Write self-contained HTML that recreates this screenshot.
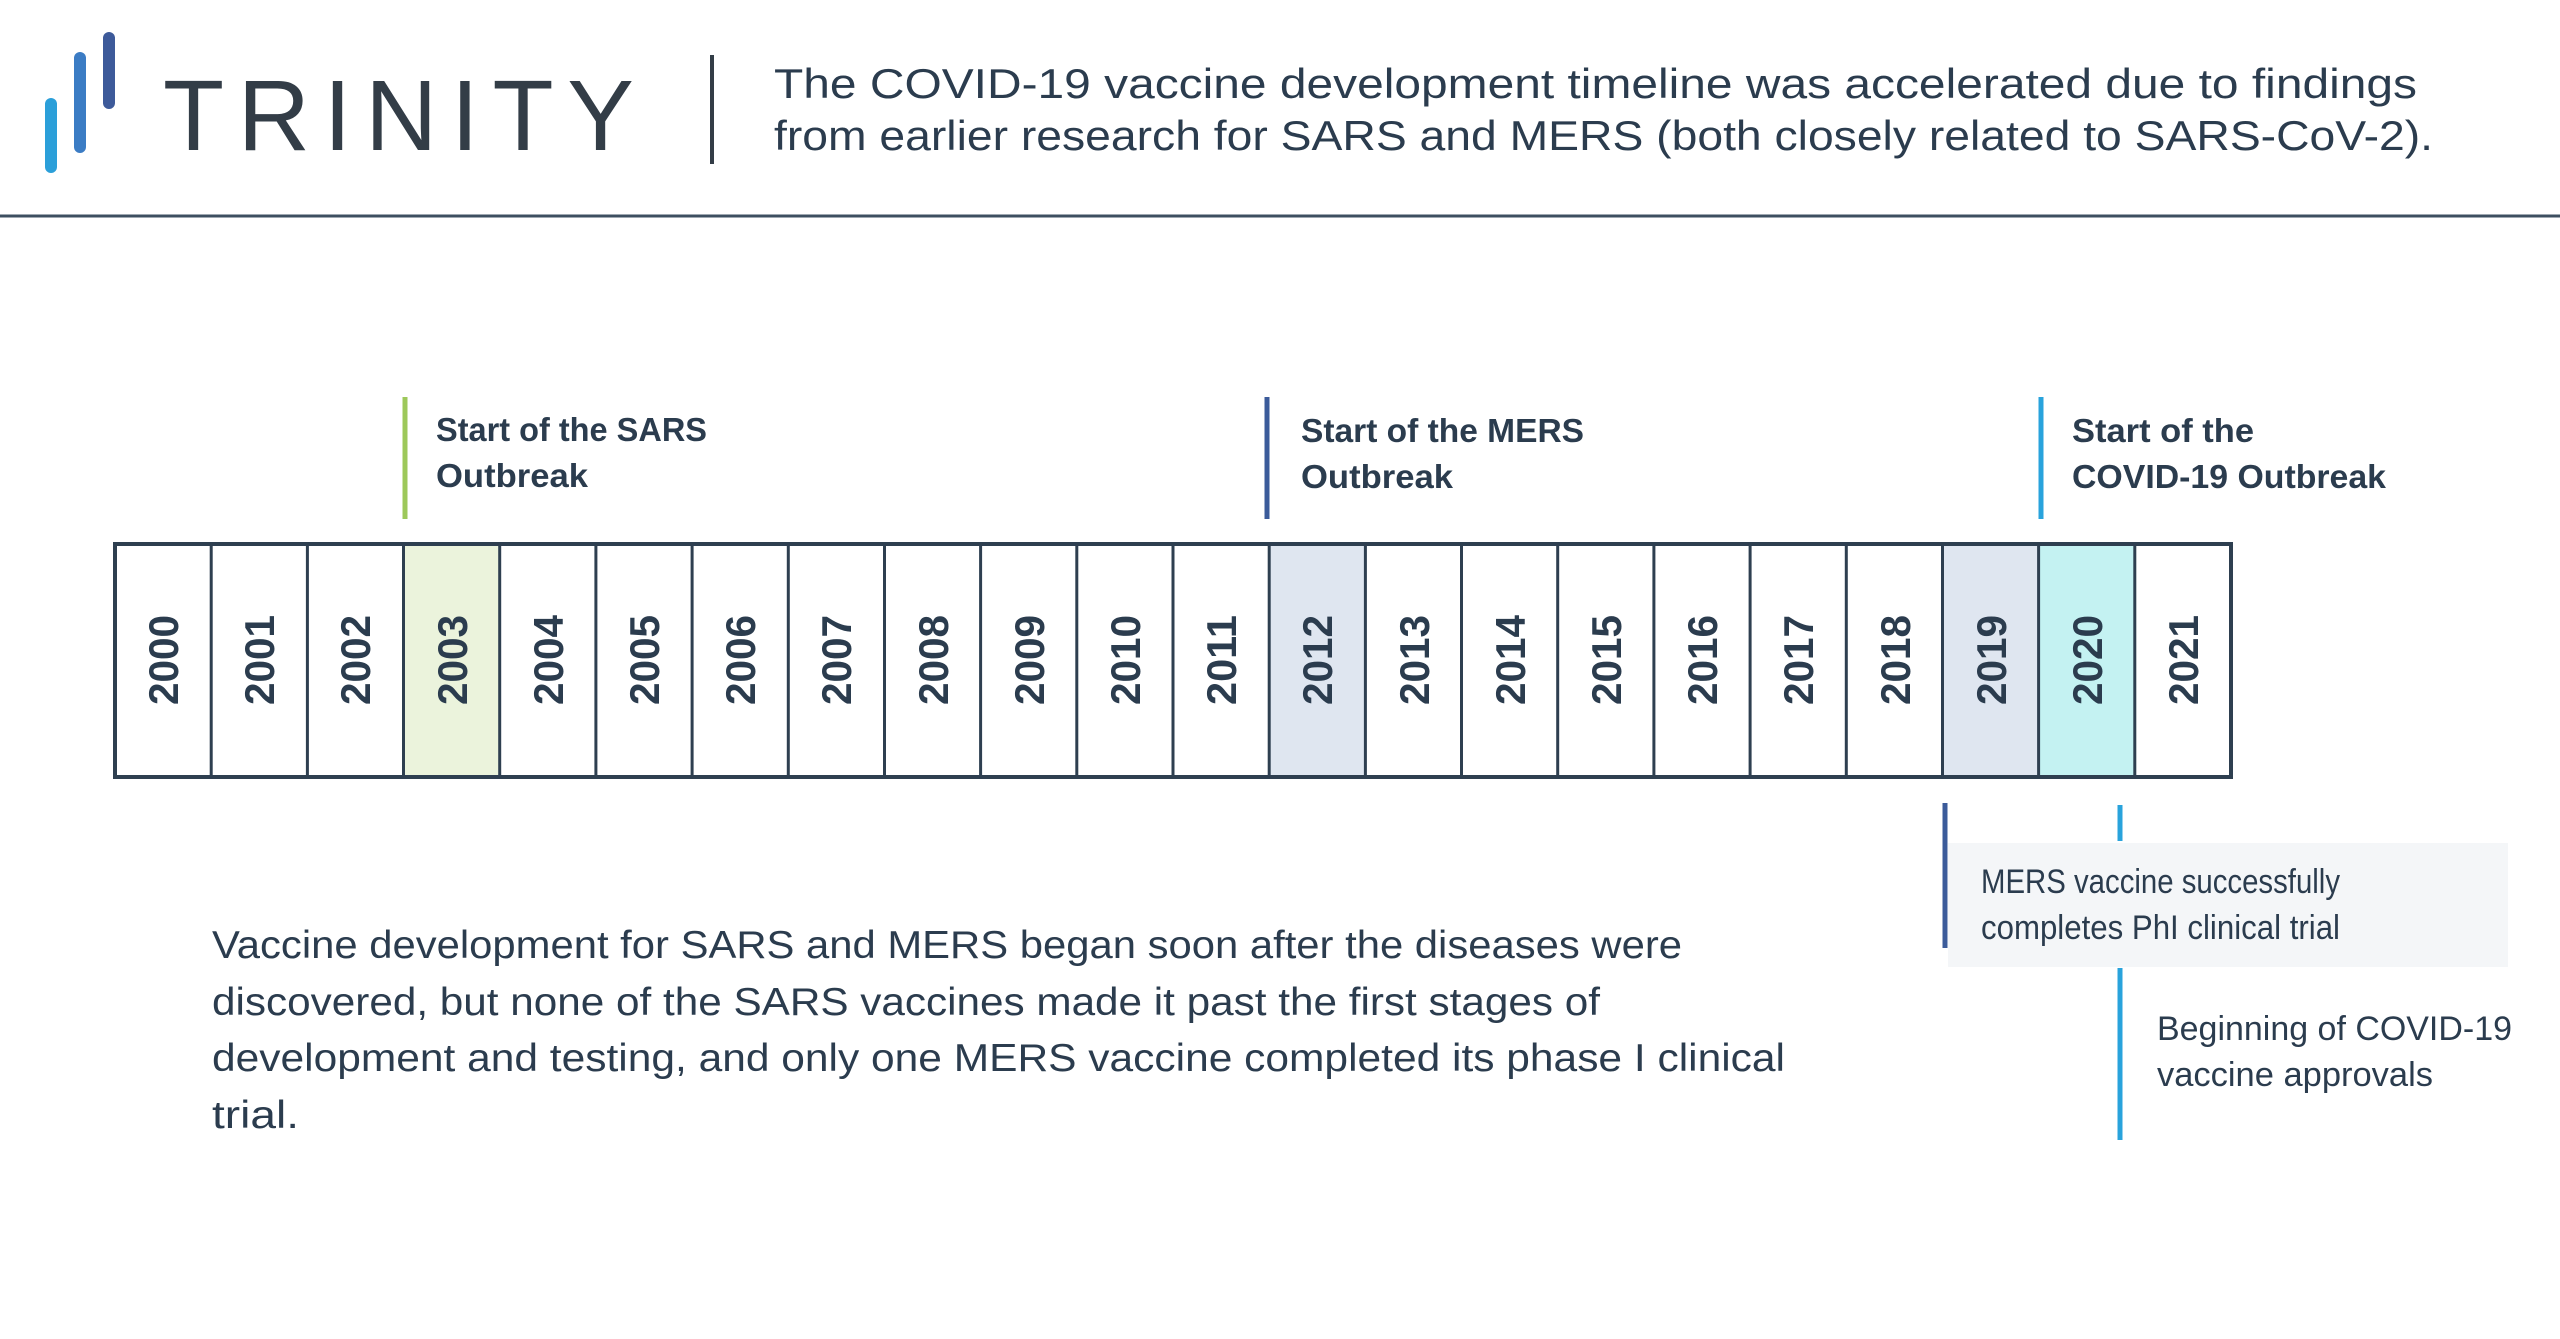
<!DOCTYPE html>
<html><head><meta charset="utf-8"><style>
html,body{margin:0;padding:0;background:#fff;}
svg{display:block;}
text{font-family:"Liberation Sans",sans-serif;fill:#2b3c4e;}
</style></head><body>
<svg width="2560" height="1339" viewBox="0 0 2560 1339" xmlns="http://www.w3.org/2000/svg">
<rect width="2560" height="1339" fill="#fff"/>
<!-- logo -->
<line x1="51" y1="104" x2="51" y2="167" stroke="#2b9fd9" stroke-width="12" stroke-linecap="round"/>
<line x1="80" y1="58" x2="80" y2="147" stroke="#3b7cc4" stroke-width="12" stroke-linecap="round"/>
<line x1="109" y1="38" x2="109" y2="103" stroke="#3d5a9a" stroke-width="12" stroke-linecap="round"/>
<text x="163" y="150" font-size="100" textLength="471" lengthAdjust="spacing" style="fill:#333d47">TRINITY</text>
<line x1="712" y1="55" x2="712" y2="164" stroke="#333d47" stroke-width="4"/>
<text x="774" y="98" font-size="42" textLength="1643" lengthAdjust="spacingAndGlyphs">The COVID-19 vaccine development timeline was accelerated due to findings</text>
<text x="774" y="150" font-size="42" textLength="1659" lengthAdjust="spacingAndGlyphs">from earlier research for SARS and MERS (both closely related to SARS-CoV-2).</text>
<line x1="0" y1="216" x2="2560" y2="216" stroke="#3d4f60" stroke-width="3"/>

<!-- markers top -->
<line x1="405" y1="397" x2="405" y2="519" stroke="#9dc85a" stroke-width="5"/>
<text x="436" y="441" font-size="33" font-weight="bold" textLength="271" lengthAdjust="spacingAndGlyphs">Start of the SARS</text>
<text x="436" y="487" font-size="33" font-weight="bold" textLength="152" lengthAdjust="spacingAndGlyphs">Outbreak</text>
<line x1="1267" y1="397" x2="1267" y2="519" stroke="#3b5b9a" stroke-width="5"/>
<text x="1301" y="442" font-size="33" font-weight="bold" textLength="283" lengthAdjust="spacingAndGlyphs">Start of the MERS</text>
<text x="1301" y="488" font-size="33" font-weight="bold" textLength="152" lengthAdjust="spacingAndGlyphs">Outbreak</text>
<line x1="2041" y1="397" x2="2041" y2="519" stroke="#29a3dc" stroke-width="5"/>
<text x="2072" y="442" font-size="33" font-weight="bold" textLength="182" lengthAdjust="spacingAndGlyphs">Start of the</text>
<text x="2072" y="488" font-size="33" font-weight="bold" textLength="314" lengthAdjust="spacingAndGlyphs">COVID-19 Outbreak</text>

<!-- timeline -->
<g id="tl">
<rect x="404" y="544" width="96" height="233" fill="#ebf3dc"/>
<rect x="1270" y="544" width="96" height="233" fill="#dfe6f0"/>
<rect x="1943" y="544" width="96" height="233" fill="#dfe6f0"/>
<rect x="2039" y="544" width="96" height="233" fill="#c4f2f2"/>
<rect x="115" y="544" width="2116" height="233" fill="none" stroke="#2e3f50" stroke-width="4"/>
</g>
<g stroke="#2e3f50" stroke-width="3">
<line x1="211.2" y1="544" x2="211.2" y2="777"/><line x1="307.4" y1="544" x2="307.4" y2="777"/><line x1="403.5" y1="544" x2="403.5" y2="777"/><line x1="499.7" y1="544" x2="499.7" y2="777"/><line x1="595.9" y1="544" x2="595.9" y2="777"/><line x1="692.1" y1="544" x2="692.1" y2="777"/><line x1="788.3" y1="544" x2="788.3" y2="777"/><line x1="884.5" y1="544" x2="884.5" y2="777"/><line x1="980.6" y1="544" x2="980.6" y2="777"/><line x1="1076.8" y1="544" x2="1076.8" y2="777"/><line x1="1173" y1="544" x2="1173" y2="777"/><line x1="1269.2" y1="544" x2="1269.2" y2="777"/><line x1="1365.4" y1="544" x2="1365.4" y2="777"/><line x1="1461.5" y1="544" x2="1461.5" y2="777"/><line x1="1557.7" y1="544" x2="1557.7" y2="777"/><line x1="1653.9" y1="544" x2="1653.9" y2="777"/><line x1="1750.1" y1="544" x2="1750.1" y2="777"/><line x1="1846.3" y1="544" x2="1846.3" y2="777"/><line x1="1942.5" y1="544" x2="1942.5" y2="777"/><line x1="2038.6" y1="544" x2="2038.6" y2="777"/><line x1="2134.8" y1="544" x2="2134.8" y2="777"/>
</g>
<g font-size="42" font-weight="bold">
<text transform="translate(178,705) rotate(-90)" textLength="90" lengthAdjust="spacingAndGlyphs">2000</text>
<text transform="translate(274,705) rotate(-90)" textLength="90" lengthAdjust="spacingAndGlyphs">2001</text>
<text transform="translate(370,705) rotate(-90)" textLength="90" lengthAdjust="spacingAndGlyphs">2002</text>
<text transform="translate(467,705) rotate(-90)" textLength="90" lengthAdjust="spacingAndGlyphs">2003</text>
<text transform="translate(563,705) rotate(-90)" textLength="90" lengthAdjust="spacingAndGlyphs">2004</text>
<text transform="translate(659,705) rotate(-90)" textLength="90" lengthAdjust="spacingAndGlyphs">2005</text>
<text transform="translate(755,705) rotate(-90)" textLength="90" lengthAdjust="spacingAndGlyphs">2006</text>
<text transform="translate(851,705) rotate(-90)" textLength="90" lengthAdjust="spacingAndGlyphs">2007</text>
<text transform="translate(948,705) rotate(-90)" textLength="90" lengthAdjust="spacingAndGlyphs">2008</text>
<text transform="translate(1044,705) rotate(-90)" textLength="90" lengthAdjust="spacingAndGlyphs">2009</text>
<text transform="translate(1140,705) rotate(-90)" textLength="90" lengthAdjust="spacingAndGlyphs">2010</text>
<text transform="translate(1236,705) rotate(-90)" textLength="90" lengthAdjust="spacingAndGlyphs">2011</text>
<text transform="translate(1332,705) rotate(-90)" textLength="90" lengthAdjust="spacingAndGlyphs">2012</text>
<text transform="translate(1429,705) rotate(-90)" textLength="90" lengthAdjust="spacingAndGlyphs">2013</text>
<text transform="translate(1525,705) rotate(-90)" textLength="90" lengthAdjust="spacingAndGlyphs">2014</text>
<text transform="translate(1621,705) rotate(-90)" textLength="90" lengthAdjust="spacingAndGlyphs">2015</text>
<text transform="translate(1717,705) rotate(-90)" textLength="90" lengthAdjust="spacingAndGlyphs">2016</text>
<text transform="translate(1813,705) rotate(-90)" textLength="90" lengthAdjust="spacingAndGlyphs">2017</text>
<text transform="translate(1910,705) rotate(-90)" textLength="90" lengthAdjust="spacingAndGlyphs">2018</text>
<text transform="translate(2006,705) rotate(-90)" textLength="90" lengthAdjust="spacingAndGlyphs">2019</text>
<text transform="translate(2102,705) rotate(-90)" textLength="90" lengthAdjust="spacingAndGlyphs">2020</text>
<text transform="translate(2198,705) rotate(-90)" textLength="90" lengthAdjust="spacingAndGlyphs">2021</text>
</g>

<!-- bottom right -->
<rect x="1948" y="843" width="560" height="124" fill="#f4f6f8"/>
<line x1="1945" y1="803" x2="1945" y2="948" stroke="#3b5b9a" stroke-width="5"/>
<line x1="2120" y1="805" x2="2120" y2="841" stroke="#29a3dc" stroke-width="5"/>
<line x1="2120" y1="968" x2="2120" y2="1140" stroke="#29a3dc" stroke-width="5"/>
<text x="1981" y="893" font-size="34" textLength="359" lengthAdjust="spacingAndGlyphs">MERS vaccine successfully</text>
<text x="1981" y="939" font-size="34" textLength="359" lengthAdjust="spacingAndGlyphs">completes PhI clinical trial</text>
<text x="2157" y="1040" font-size="34" textLength="355" lengthAdjust="spacingAndGlyphs">Beginning of COVID-19</text>
<text x="2157" y="1086" font-size="34" textLength="276" lengthAdjust="spacingAndGlyphs">vaccine approvals</text>

<!-- paragraph -->
<g font-size="39">
<text x="212" y="958" textLength="1470" lengthAdjust="spacingAndGlyphs">Vaccine development for SARS and MERS began soon after the diseases were</text>
<text x="212" y="1015" textLength="1388" lengthAdjust="spacingAndGlyphs">discovered, but none of the SARS vaccines made it past the first stages of</text>
<text x="212" y="1071" textLength="1573" lengthAdjust="spacingAndGlyphs">development and testing, and only one MERS vaccine completed its phase I clinical</text>
<text x="212" y="1128" textLength="87" lengthAdjust="spacingAndGlyphs">trial.</text>
</g>
</svg>
</body></html>
